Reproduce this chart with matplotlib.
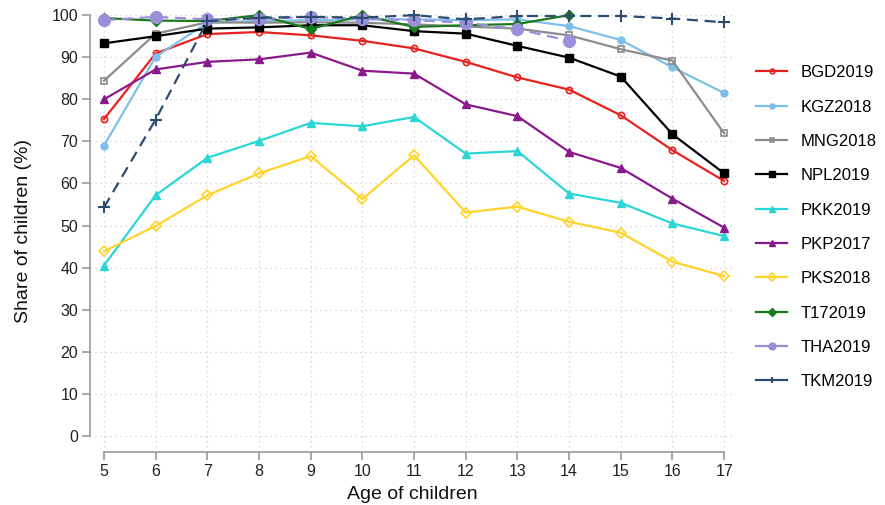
import matplotlib.pyplot as plt
from matplotlib.lines import Line2D
import numpy as np

plt.rcParams['font.family'] = ['Liberation Sans', 'DejaVu Sans']

ages = np.arange(5, 18)

bgd2019 = [75.3, 90.9, 95.5, 96.0, 95.2, 93.9, 92.1, 88.9, 85.2, 82.3, 76.2, 67.9, 60.6]
kgz2018 = [69.0, 90.1, 98.2, 98.6, 98.8, 99.0, 99.0, 98.8, 99.0, 97.4, 94.1, 87.6, 81.5]
mng2018 = [84.4, 95.6, 98.3, 98.2, 98.3, 98.2, 97.8, 97.3, 96.8, 95.2, 91.9, 89.2, 71.9]
npl2019 = [93.3, 95.0, 96.8, 97.1, 97.6, 97.6, 96.2, 95.6, 92.7, 89.9, 85.4, 71.7, 62.4]
pkk2019 = [40.5, 57.2, 66.1, 70.1, 74.4, 73.6, 75.8, 67.1, 67.7, 57.6, 55.4, 50.5, 47.5]
pkp2017 = [80.0, 87.1, 88.9, 89.5, 91.1, 86.8, 86.1, 78.8, 76.0, 67.5, 63.7, 56.4, 49.5]
pks2018 = [43.9, 49.9, 57.2, 62.4, 66.5, 56.3, 66.7, 53.1, 54.5, 50.9, 48.3, 41.4, 38.0]
t172019 = [99.3, 98.7, 98.6, 100.0, 96.7, 100.0, 97.2, 97.6, 97.9, 100.0]
tha2019 = [98.8, 99.6, 99.0, 99.1, 99.6, 99.1, 98.8, 98.2, 96.7, 93.9]
tkm2019 = [54.3, 75.2, 98.6, 99.4, 99.6, 99.4, 100.0, 99.0, 99.8, 99.8, 99.8, 99.2, 98.3]

dash = (0, (5, 3))
series = [
    ('BGD2019', bgd2019, '#e8211e', dict(marker='o', markersize=4.5, mfc='none', mew=1.2)),
    ('KGZ2018', kgz2018, '#80bfea', dict(marker='o', markersize=5)),
    ('MNG2018', mng2018, '#8c8c8c', dict(marker='s', markersize=4.5, mfc='none', mew=1.2)),
    ('NPL2019', npl2019, '#000000', dict(marker='s', markersize=5.5)),
    ('PKK2019', pkk2019, '#2cd6d6', dict(marker='^', markersize=6)),
    ('PKP2017', pkp2017, '#8a1a8c', dict(marker='^', markersize=6)),
    ('PKS2018', pks2018, '#ffd42a', dict(marker='D', markersize=5, mfc='none', mew=1.2)),
    ('T172019', t172019, '#1b7a1b', dict(marker='D', markersize=5.5)),
    ('THA2019', tha2019, '#9a8fda', dict(marker='o', markersize=8.5, linestyle=dash)),
    ('TKM2019', tkm2019, '#2d4c70', dict(marker='+', markersize=8, mew=1.5, linestyle=dash)),
]

fig = plt.figure(figsize=(8.85, 5.05), dpi=100)
ax = fig.add_axes([0.1017, 0.105, 0.7288, 0.875])

handles = []
for name, vals, color, style in series:
    ax.plot(ages[:len(vals)], vals, color=color, linewidth=1.6, **style)
    # legend keys: solid line, smaller marker
    key = dict(style)
    key.pop('linestyle', None)
    key['markersize'] = min(style['markersize'] * 0.75, 5)
    handles.append(Line2D([], [], color=color, linewidth=1.6, label=name, **key))

ax.set_xlim(4.73, 17.21)
ax.set_ylim(-3.8, 101.2)
ax.set_xticks(ages)
ax.set_yticks(np.arange(0, 101, 10))

ax.grid(True, color='#cfcfcf', linestyle=(0, (1, 3)), linewidth=0.9)
ax.set_axisbelow(True)

for side in ['top', 'right']:
    ax.spines[side].set_visible(False)
ax.spines['left'].set_bounds(0, 100)
ax.spines['bottom'].set_bounds(5, 17)
for side in ['left', 'bottom']:
    ax.spines[side].set_color('#9a9a9a')
    ax.spines[side].set_linewidth(1.2)
ax.tick_params(colors='#9a9a9a', labelcolor='#222222', labelsize=11.5,
               length=5.5, width=1.2, pad=3)

ax.set_xlabel('Age of children', fontsize=14, color='#111111', labelpad=5)
ax.set_ylabel('Share of children (%)', fontsize=14, color='#111111', labelpad=14)

fig.legend(handles=handles, loc='upper left', bbox_to_anchor=(0.847, 0.884),
           frameon=False, fontsize=12, labelspacing=1.16, handlelength=1.85,
           handletextpad=0.8, borderaxespad=0)

fig.savefig('out.png', dpi=100)
